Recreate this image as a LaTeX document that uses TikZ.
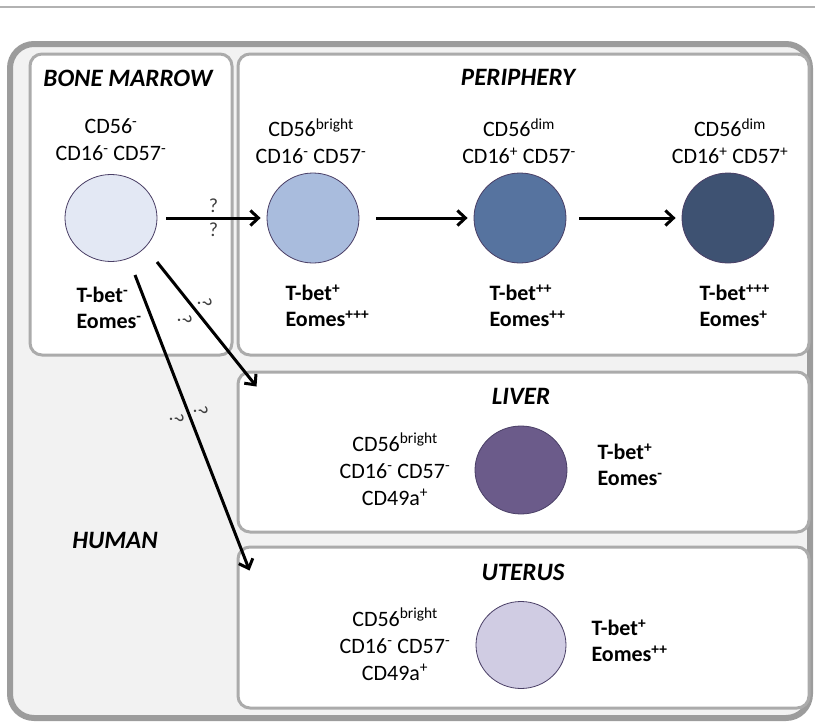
\documentclass[tikz,border=0pt]{standalone}
\usepackage{fontspec}
\setmainfont{Carlito}
\usetikzlibrary{arrows.meta,shapes.geometric,calc}
\definecolor{bmcol}{HTML}{E3E8F4}
\definecolor{pacol}{HTML}{A9BCDD}
\definecolor{pbcol}{HTML}{56739F}
\definecolor{pccol}{HTML}{3E5272}
\definecolor{livcol}{HTML}{6B5B8A}
\definecolor{utcol}{HTML}{D0CCE3}
\definecolor{cellline}{HTML}{4A3F66}
\definecolor{framegray}{HTML}{9C9C9C}
\definecolor{panelgray}{HTML}{ABABAB}
\definecolor{humanbg}{HTML}{F2F2F2}
\begin{document}
\begin{tikzpicture}[x=1pt,y=-1pt,
  frame/.style={draw=framegray, line width=6pt, fill=humanbg, rounded corners=24pt},
  panel/.style={draw=panelgray, line width=3pt, fill=white, rounded corners=12pt},
  ttl/.style={font=\bfseries\itshape\fontsize{25}{30}\selectfont},
  mk/.style={font=\fontsize{22}{27}\selectfont, align=center},
  tf/.style={font=\bfseries\fontsize{22}{26}\selectfont, align=left, anchor=west},
  cell/.style={ellipse, draw=cellline, line width=0.8pt, inner sep=0pt},
  conn/.style={line width=3pt, -{Straight Barb[length=8pt,width=15pt]}},
  qm/.style={font=\fontsize{20}{20}\selectfont, text=black!75, inner sep=0pt},
  qr/.style={qm, rotate=-80}
]
\useasboundingbox (0,0) rectangle (815,726);
\draw[black!30, line width=2pt] (0,7) -- (815,7);

% frames
\node[frame, minimum width=800pt, minimum height=674pt] (human) at (410,381) {};
\node[panel, minimum width=202pt, minimum height=301pt] (bmbox) at (131,204.5) {};
\node[panel, minimum width=571pt, minimum height=301pt] (perbox) at (523.5,204.5) {};
\node[panel, minimum width=571pt, minimum height=160pt] (livbox) at (523.5,452) {};
\node[panel, minimum width=571pt, minimum height=161pt] (utbox) at (523.5,627.5) {};

% titles
\node[ttl] (bmt) at (128,78) {BONE MARROW};
\node[ttl] (pert) at (518,77) {PERIPHERY};
\node[ttl] (livt) at (521,396) {LIVER};
\node[ttl] (utt) at (523,572) {UTERUS};
\node[ttl] (hum) at (115,540) {HUMAN};

% cells
\node[cell, fill=bmcol, minimum width=92pt, minimum height=87pt] (bm) at (111,218) {};
\node[cell, fill=pacol, minimum width=92pt, minimum height=90pt] (p1) at (313,218) {};
\node[cell, fill=pbcol, minimum width=92pt, minimum height=90pt] (p2) at (520,218) {};
\node[cell, fill=pccol, minimum width=92pt, minimum height=90pt] (p3) at (728,218) {};
\node[cell, fill=livcol, minimum width=92pt, minimum height=88pt] (liv) at (521,470) {};
\node[cell, fill=utcol, minimum width=90pt, minimum height=87pt] (ut) at (521,645) {};

% markers
\node[mk] (bmm) at (111,140) {CD56\textsuperscript{-}\\CD16\textsuperscript{-} CD57\textsuperscript{-}};
\node[mk] (p1m) at (311,141) {CD56\textsuperscript{bright}\\CD16\textsuperscript{-} CD57\textsuperscript{-}};
\node[mk] (p2m) at (519,141) {CD56\textsuperscript{dim}\\CD16\textsuperscript{+} CD57\textsuperscript{-}};
\node[mk] (p3m) at (730,141) {CD56\textsuperscript{dim}\\CD16\textsuperscript{+} CD57\textsuperscript{+}};
\node[mk] (livm) at (395,469) {CD56\textsuperscript{bright}\\CD16\textsuperscript{-} CD57\textsuperscript{-}\\CD49a\textsuperscript{+}};
\node[mk] (utm) at (395,644) {CD56\textsuperscript{bright}\\CD16\textsuperscript{-} CD57\textsuperscript{-}\\CD49a\textsuperscript{+}};

% transcription factors
\node[tf] (bmtf) at (73,308) {T-bet\textsuperscript{-}\\Eomes\textsuperscript{-}};
\node[tf] (p1tf) at (282,306) {T-bet\textsuperscript{+}\\Eomes\textsuperscript{+++}};
\node[tf] (p2tf) at (486,306) {T-bet\textsuperscript{++}\\Eomes\textsuperscript{++}};
\node[tf] (p3tf) at (696,306) {T-bet\textsuperscript{+++}\\Eomes\textsuperscript{+}};
\node[tf] (livtf) at (594,465) {T-bet\textsuperscript{+}\\Eomes\textsuperscript{-}};
\node[tf] (uttf) at (588,641) {T-bet\textsuperscript{+}\\Eomes\textsuperscript{++}};

% connectors
\draw[conn] ([xshift=9pt]bm.east) -- ([xshift=-6pt]p1.west)
  node[midway, yshift=12pt, qm] (q1) {?} node[midway, yshift=-12pt, qm] (q2) {?};
\draw[conn] ([xshift=17pt]p1.east) -- ([xshift=-6pt]p2.west);
\draw[conn] ([xshift=13pt]p2.east) -- ([xshift=-6pt]p3.west);
\draw[conn] ($(bm)+(46,44)$) -- ($(livbox.north west)+(20,16)$)
  node[pos=0.39, xshift=9pt, yshift=8pt, qr] (q3) {?}
  node[pos=0.39, xshift=-11pt, yshift=-9pt, qr] (q4) {?};
\draw[conn] ($(bm)+(24,57)$) -- ($(utbox.north west)+(13,25)$)
  node[pos=0.47, xshift=12pt, yshift=3pt, qr] (q5) {?}
  node[pos=0.47, xshift=-12pt, yshift=-5pt, qr] (q6) {?};
\end{tikzpicture}
\end{document}
